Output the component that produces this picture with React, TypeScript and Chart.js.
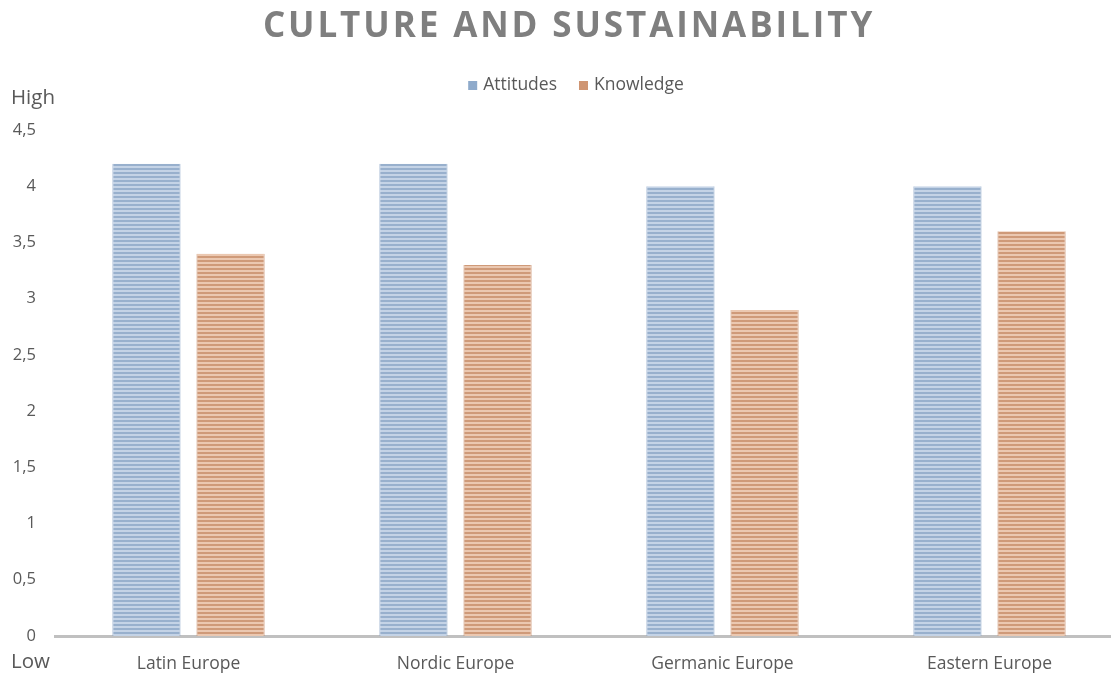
import React, { useEffect, useRef } from "react";
import { Chart, registerables } from "chart.js";

Chart.register(...registerables);

const TITLE = "CULTURE AND SUSTAINABILITY";
const categories = ["Latin Europe", "Nordic Europe", "Germanic Europe", "Eastern Europe"];
const seriesNames = ["Attitudes", "Knowledge"];
const attitudes = [4.2, 4.2, 4.0, 4.0];
const knowledge = [3.4, 3.3, 2.9, 3.6];
const yTicks = [0, 0.5, 1, 1.5, 2, 2.5, 3, 3.5, 4, 4.5];
const axisHigh = "High";
const axisLow = "Low";

const FONT = "'Open Sans', 'Liberation Sans', sans-serif";
const TEXT = "#595959";
const SWATCH = ["#8eaacb", "#cf9572"];

function makePattern(light: string, dark: string): CanvasPattern | string {
  const c = document.createElement("canvas");
  c.width = 4;
  c.height = 4;
  const g = c.getContext("2d");
  if (!g) return dark;
  g.fillStyle = light;
  g.fillRect(0, 0, 4, 4);
  g.fillStyle = dark;
  g.fillRect(0, 0, 4, 2);
  const p = g.createPattern(c, "repeat");
  return p || dark;
}

export default function App() {
  const ref = useRef<HTMLCanvasElement>(null);

  useEffect(() => {
    if (!ref.current) return;
    const bluePattern = makePattern("#c4d3e6", "#98b0cd");
    const orangePattern = makePattern("#ebc8b1", "#cf9a79");

    const decor = {
      id: "decor",
      afterDraw(chart: any) {
        const ctx = chart.ctx;
        ctx.save();
        // title
        ctx.fillStyle = "#7f7f7f";
        ctx.font = `bold 35px ${FONT}`;
        (ctx as any).letterSpacing = "2.9px";
        ctx.textAlign = "center";
        ctx.textBaseline = "alphabetic";
        ctx.fillText(TITLE, 569, 37);
        (ctx as any).letterSpacing = "0px";
        // legend
        ctx.font = `17.5px ${FONT}`;
        ctx.textBaseline = "middle";
        ctx.textAlign = "left";
        const gap = 22;
        const box = 9;
        const widths = seriesNames.map((n) => ctx.measureText(n).width);
        const total = widths.reduce((a, w) => a + box + 6 + w, 0) + gap * (seriesNames.length - 1);
        let x = 576 - total / 2;
        seriesNames.forEach((n, i) => {
          ctx.fillStyle = SWATCH[i];
          ctx.fillRect(x, 81, box, box);
          x += box + 6;
          ctx.fillStyle = TEXT;
          ctx.fillText(n, x, 85.5);
          x += widths[i] + gap;
        });
        // High / Low
        ctx.textBaseline = "alphabetic";
        ctx.fillStyle = TEXT;
        ctx.font = `20.5px ${FONT}`;
        ctx.fillText(axisHigh, 11, 104);
        ctx.fillText(axisLow, 11, 668);
        ctx.restore();
      },
    };

    const chart = new Chart(ref.current, {
      type: "bar",
      data: {
        datasets: [
          {
            label: seriesNames[0],
            data: attitudes.map((v, i) => ({ x: i, y: v })),
            backgroundColor: bluePattern as any,
            borderColor: "#8ba6c7",
            borderWidth: { left: 1, right: 1, top: 0, bottom: 0 },
            borderSkipped: false,
            categoryPercentage: 0.63,
            barPercentage: 0.81,
          },
          {
            label: seriesNames[1],
            data: knowledge.map((v, i) => ({ x: i, y: v })),
            backgroundColor: orangePattern as any,
            borderColor: "#c88e6b",
            borderWidth: { left: 1, right: 1, top: 0, bottom: 0 },
            borderSkipped: false,
            categoryPercentage: 0.63,
            barPercentage: 0.81,
          },
        ],
      },
      options: {
        animation: false,
        responsive: true,
        maintainAspectRatio: false,
        layout: { padding: { top: 130, bottom: 0, left: 0, right: 0 } },
        plugins: {
          title: { display: false },
          tooltip: { enabled: false },
          legend: { display: false },
        },
        scales: {
          x: {
            type: "linear",
            offset: false,
            min: -0.5,
            max: -0.5 + 1056 / 267,
            grid: { display: false, drawTicks: false, offset: false },
            border: { display: true, color: "#c0c0c0", width: 3 },
            afterBuildTicks: (scale: any) => {
              scale.ticks = categories.map((_, i) => ({ value: i }));
            },
            afterFit: (scale: any) => {
              scale.height = 37;
            },
            ticks: {
              color: TEXT,
              font: { family: FONT, size: 17.5 },
              padding: 18,
              autoSkip: false,
              maxRotation: 0,
              callback: (v: any) => categories[Math.round(Number(v))] ?? "",
            },
          },
          y: {
            type: "linear",
            min: 0,
            max: 4.5,
            grid: { display: false, drawTicks: false },
            border: { display: false },
            afterBuildTicks: (scale: any) => {
              scale.ticks = yTicks.map((v) => ({ value: v }));
            },
            afterFit: (scale: any) => {
              scale.width = 55;
            },
            ticks: {
              color: TEXT,
              font: { family: FONT, size: 16.5 },
              padding: 19,
              callback: (v: any) => String(v).replace(".", ","),
            },
          },
        },
      },
      plugins: [decor],
    });
    return () => chart.destroy();
  }, []);

  return (
    <div style={{ position: "fixed", left: 0, top: 0, width: 1111, height: 673, background: "#fff" }}>
      <canvas ref={ref} />
    </div>
  );
}
